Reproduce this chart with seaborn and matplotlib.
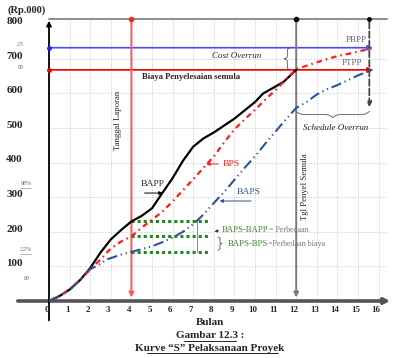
import numpy as np
import matplotlib
matplotlib.use('Agg')
import matplotlib.pyplot as plt
import seaborn as sns

# ============================================================
# DATA (Rp.000 vs bulan)
# ============================================================
bapp_month = [0, 0.5, 1, 1.5, 2, 2.5, 3, 3.5, 4, 4.5, 5, 5.5, 6, 6.5, 7, 7.5, 8,
              9, 10, 10.4, 11, 11.4, 12]
bapp_value = [0, 14, 33, 60, 95, 140, 178, 205, 230, 246, 268, 312, 355, 405, 446, 470, 487,
              527, 575, 600, 620, 634, 668]

bps_month = [0, 0.5, 1, 1.5, 2, 2.5, 3, 3.5, 4, 4.5, 5, 5.5, 6, 6.5, 7, 7.5, 8, 8.5, 9,
             9.5, 10, 10.5, 11, 11.5, 12, 12.5, 13, 13.5, 14, 14.5, 15, 15.8]
bps_value = [0, 14, 33, 60, 92, 120, 152, 172, 187, 212, 235, 258, 288, 320, 352, 385, 418, 458, 496,
             525, 553, 582, 610, 640, 670, 680, 690, 699, 708, 714, 721, 732]

baps_month = [0, 0.5, 1, 1.5, 2, 2.4, 2.8, 3.3, 3.6, 4, 4.5, 5, 5.5, 6, 6.5, 7, 7.5, 8, 8.5, 9,
              9.5, 10, 10.5, 11, 11.5, 12, 12.5, 13, 13.5, 14, 14.5, 15, 15.7]
baps_value = [0, 14, 32, 60, 92, 104, 120, 130, 136, 142, 150, 158, 170, 183, 200, 222, 250, 283, 315, 350,
              385, 418, 455, 490, 525, 558, 575, 597, 612, 624, 638, 652, 668]

budget_plan = 668      # Biaya Penyelesaian semula (PTPP)
budget_actual = 732    # PBPP
report_month = 4       # Tanggal Laporan
finish_plan = 12       # Tgl Penyel Semula
finish_actual = 15.55  # schedule overrun end

x_ticks = list(range(0, 17))
y_ticks = [100, 200, 300, 400, 500, 600, 700, 800]
small_labels = [("25", -1.4, 740), ("80", -1.36, 676), ("98%", -1.12, 341),
                ("22%", -1.12, 150), ("80", -1.07, 66)]

TOP = 815

RED = "#ff1a1a"
NAVY = "#2a5597"
GREEN = "#1e8a1e"
GRID = "#c4c4c4"


def brace(ax, a0, a1, base, h, vertical=False, **kw):
    # curly brace from a0 to a1, ends on `base`, tip at base + h
    t = np.linspace(0, 0.5, 60)
    beta = 40
    half = 1 / (1 + np.exp(-beta * t)) + 1 / (1 + np.exp(-beta * (t - 0.5)))
    half = (half - half[0]) / (half[-1] - half[0])
    f = np.concatenate([half, half[-2::-1]])
    s = np.linspace(a0, a1, len(f))
    d = base + h * f
    if vertical:
        ax.plot(d, s, **kw)
    else:
        ax.plot(s, d, **kw)


sns.set_style("white")
plt.rcParams['font.family'] = ['Liberation Serif', 'DejaVu Serif']

fig = plt.figure(figsize=(4, 3.58), dpi=100)
ax = fig.add_axes([0, 0, 1, 1])
ax.set_xlim(-49 / 20.6, 351 / 20.6)
ax.set_ylim((301 - 358) / 0.346, 301 / 0.346)
ax.axis("off")

# grid
for m in x_ticks[1:]:
    ax.plot([m, m], [0, TOP], color=GRID, lw=0.5, ls=(0, (2, 2)), zorder=1)
for v in y_ticks[:-1]:
    ax.plot([0, 16.4], [v, v], color=GRID, lw=0.5, ls=(0, (2, 2)), zorder=1)
ax.plot([0, 16.4], [TOP, TOP], color="#8c8c8c", lw=1.4, zorder=2)

# axes
ax.annotate("", xy=(16.7, 0), xytext=(-1.65, 0),
            arrowprops=dict(arrowstyle="-|>", color="#555555", lw=2.6, mutation_scale=8), zorder=3)
ax.annotate("", xy=(0, TOP + 3), xytext=(0, -64),
            arrowprops=dict(arrowstyle="-|>", color="black", lw=1.3, mutation_scale=7), zorder=3)

for m in x_ticks:
    ax.text(m - 0.12, -26, str(m), ha="center", va="center", fontsize=6.5, fontweight="bold")
for v in y_ticks:
    ax.text(-1.27, v + 8, str(v), ha="right", va="center", fontsize=8, fontweight="bold")
for s, mx, vy in small_labels:
    ax.text(mx, vy, s, ha="center", va="center", fontsize=4.3, color="#666666", style="italic")
ax.plot([-1.4, -0.85], [326, 326], color="#777777", lw=0.4)
ax.plot([-1.4, -0.85], [135, 135], color="#777777", lw=0.4)
ax.text(-1.07, 841, "(Rp.000)", ha="center", va="center", fontsize=7.5, fontweight="bold")

# reference lines
ax.annotate("", xy=(15.85, budget_actual), xytext=(0, budget_actual),
            arrowprops=dict(arrowstyle="-|>", color="#4a4aff", lw=1.2, mutation_scale=7), zorder=3)
ax.annotate("", xy=(15.85, budget_plan), xytext=(0, budget_plan),
            arrowprops=dict(arrowstyle="-|>", color="#e60000", lw=1.2, mutation_scale=7), zorder=3)
ax.plot([0], [budget_actual], "o", color="#2020ff", ms=2.5, zorder=4)
ax.plot([0], [budget_plan], "o", color="#e60000", ms=2.5, zorder=4)

ax.annotate("", xy=(report_month, 2), xytext=(report_month, TOP),
            arrowprops=dict(arrowstyle="-|>", color="#ff5555", lw=1.4, mutation_scale=7), zorder=3)
ax.plot([report_month], [TOP], "o", color="#ff2020", ms=3, zorder=4)
ax.annotate("", xy=(finish_plan, 2), xytext=(finish_plan, TOP),
            arrowprops=dict(arrowstyle="-|>", color="#7a7a7a", lw=1.4, mutation_scale=7), zorder=3)
ax.plot([finish_plan], [TOP], "o", color="black", ms=3, zorder=4)
ax.annotate("", xy=(finish_actual, 552), xytext=(finish_actual, TOP),
            arrowprops=dict(arrowstyle="-|>", color="#444444", lw=1.3, ls="--", mutation_scale=7), zorder=3)
ax.plot([finish_actual], [TOP], "o", color="black", ms=2.5, zorder=4)

# S curves
sns.lineplot(x=bapp_month, y=bapp_value, ax=ax, color="black", lw=1.6, zorder=5)
sns.lineplot(x=bps_month, y=bps_value, ax=ax, color=RED, lw=1.6,
             linestyle=(0, (2.5, 1.8, 0.7, 1.8)), zorder=5)
sns.lineplot(x=baps_month, y=baps_value, ax=ax, color=NAVY, lw=1.5,
             linestyle=(0, (5, 1.8, 0.6, 1.8, 0.6, 1.8)), zorder=5)
ax.annotate("", xy=(baps_month[-1] + 0.1, baps_value[-1] + 1), xytext=(baps_month[-2], baps_value[-2]),
            arrowprops=dict(arrowstyle="-|>", color=NAVY, lw=0.1, mutation_scale=6), zorder=5)

# differences at the report date
lv = [bapp_value[bapp_month.index(report_month)],
      bps_value[bps_month.index(report_month)],
      baps_value[baps_month.index(report_month)]]
ax.hlines(lv, report_month, 7.7, color=GREEN, lw=2.2, linestyles=[(0, (1, 1))], zorder=4)
ax.plot([7.18, 7.18], [lv[0], lv[2]], color="#8a8a8a", lw=0.7, zorder=4)

# texts
ax.text(3.35, 523, "Tanggal Laporan", rotation=90, ha="center", va="center", fontsize=6.3)
ax.text(12.43, 330, "Tgl Penyel Semula", rotation=90, ha="center", va="center", fontsize=6.3)
ax.text(4.5, 647, "Biaya Penyelesaian semula", ha="left", va="center", fontsize=6.2, fontweight="bold")
ax.text(9.13, 708, "Cost Overrun", ha="center", va="center", fontsize=6.5, style="italic")
brace(ax, budget_plan, budget_actual, 11.72, -0.3, vertical=True, color="#555555", lw=0.6)
ax.text(14.9, 754, "PBPP", ha="center", va="center", fontsize=6.5, color="#666666")
ax.text(14.7, 688, "PTPP", ha="center", va="center", fontsize=6.5, color="#666666")
brace(ax, finish_plan, finish_actual, 548, -18, color="#555555", lw=0.6)
ax.text(13.9, 500, "Schedule Overrun", ha="center", va="center", fontsize=6.5, style="italic")

ax.text(5.05, 337, "BAPP", ha="center", va="center", fontsize=6.8)
ax.annotate("", xy=(5.65, 312), xytext=(4.5, 312),
            arrowprops=dict(arrowstyle="-|>", color="black", lw=0.7, mutation_scale=5))
ax.text(8.45, 396, "BPS", ha="left", va="center", fontsize=6.8, color=RED)
ax.annotate("", xy=(7.5, 396), xytext=(8.35, 396),
            arrowprops=dict(arrowstyle="-|>", color=RED, lw=0.7, mutation_scale=5))
ax.text(9.13, 314, "BAPS", ha="left", va="center", fontsize=6.8, color=NAVY)
ax.annotate("", xy=(8.15, 289), xytext=(9.95, 289),
            arrowprops=dict(arrowstyle="-|>", color=NAVY, lw=0.7, mutation_scale=5))

t1 = ax.text(8.4, 205, "BAPS-BAPP", ha="left", va="center", fontsize=6.3, color="#3d8a2a")
ax.annotate("= Perbedaan", xy=(1, 0.5), xycoords=t1, ha="left", va="center", fontsize=5.8, color="#777777")
ax.annotate("", xy=(7.9, 199), xytext=(8.38, 205),
            arrowprops=dict(arrowstyle="-|>", color="#333333", lw=0.6, mutation_scale=4))
t2 = ax.text(8.69, 165, "BAPS-BPS", ha="left", va="center", fontsize=6.3, color="#3d8a2a")
ax.annotate("=Perbedaan biaya", xy=(1, 0.5), xycoords=t2, ha="left", va="center", fontsize=5.8, color="#777777")
brace(ax, 147, 185, 8.2, 0.2, vertical=True, color="#555555", lw=0.6)

ax.text(7.82, -63, "Bulan", ha="center", va="center", fontsize=8, fontweight="bold")
ax.text(7.82, -101, "Gambar 12.3 :", ha="center", va="center", fontsize=8, fontweight="bold")
ax.plot([6.55, 9.1], [-115, -115], color="black", lw=0.6)
ax.text(7.82, -136, "Kurve \u201cS\u201d Pelaksanaan Proyek", ha="center", va="center", fontsize=8, fontweight="bold")
ax.plot([4.78, 11.1], [-150, -150], color="black", lw=0.6)

fig.savefig("out.png", dpi=100)
